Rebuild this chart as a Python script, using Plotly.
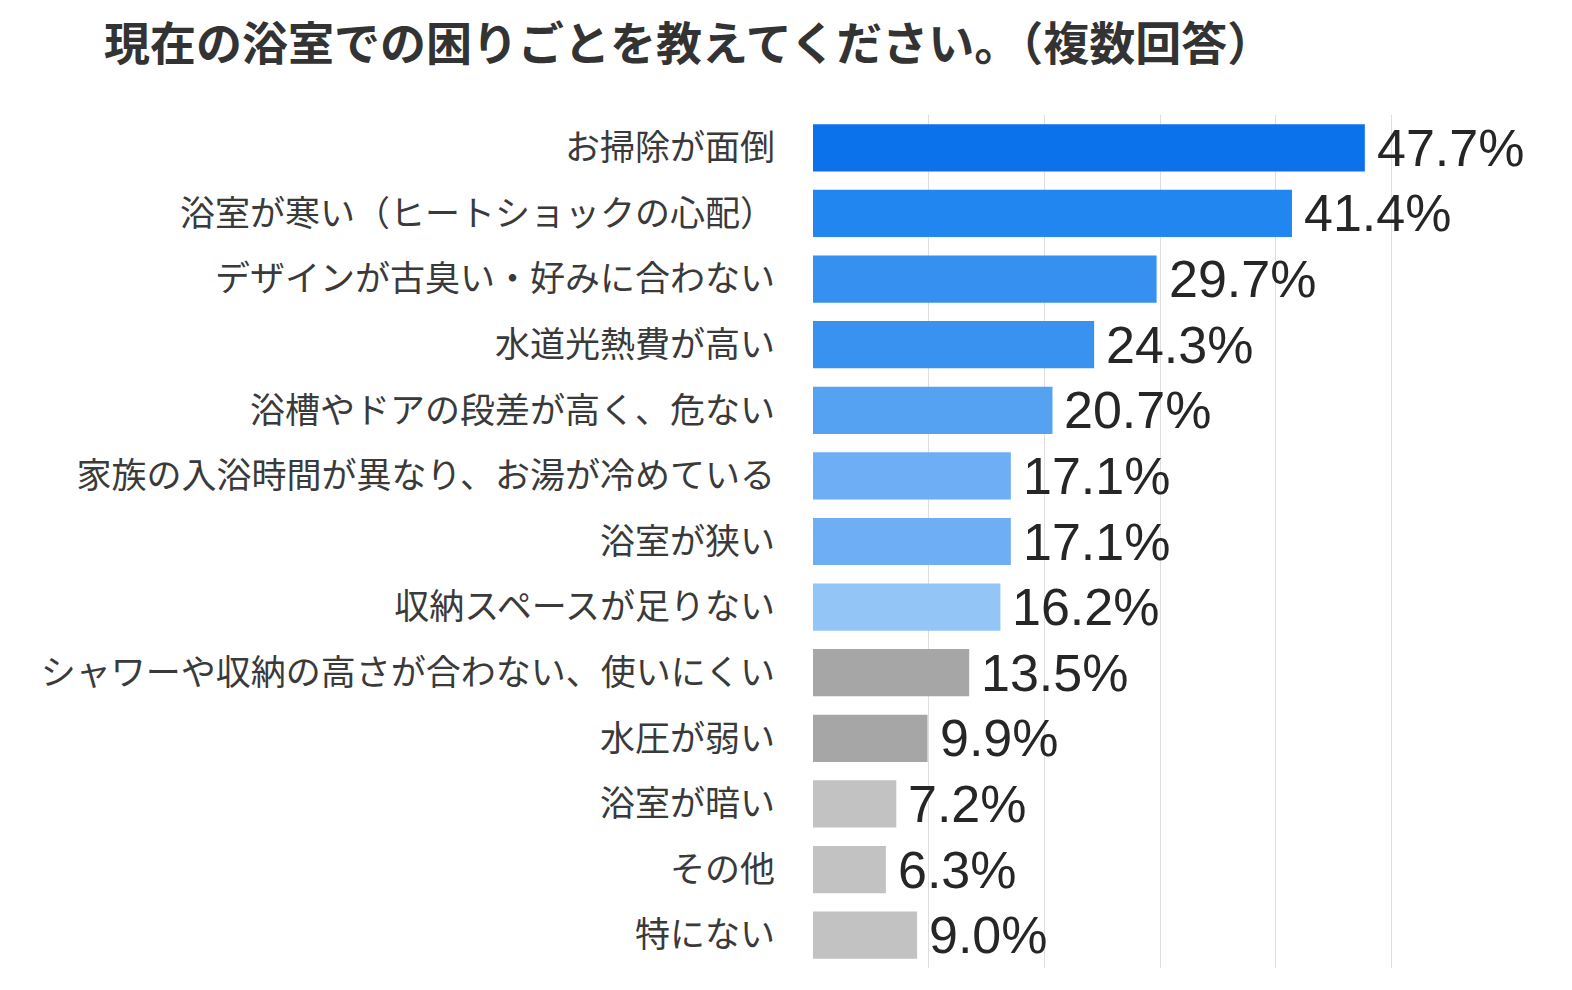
import plotly.graph_objects as go

# Survey answers (multiple answers allowed), top to bottom as in the chart
categories = [
    "お掃除が面倒",
    "浴室が寒い（ヒートショックの心配）",
    "デザインが古臭い・好みに合わない",
    "水道光熱費が高い",
    "浴槽やドアの段差が高く、危ない",
    "家族の入浴時間が異なり、お湯が冷めている",
    "浴室が狭い",
    "収納スペースが足りない",
    "シャワーや収納の高さが合わない、使いにくい",
    "水圧が弱い",
    "浴室が暗い",
    "その他",
    "特にない",
]
values = [47.7, 41.4, 29.7, 24.3, 20.7, 17.1, 17.1, 16.2, 13.5, 9.9, 7.2, 6.3, 9.0]
bar_colors = [
    "#0B72EB", "#2186F0", "#3690F0", "#3A92F0", "#56A2F2", "#6DAEF4", "#6DAEF4",
    "#94C5F7", "#A6A6A6", "#A6A6A6", "#C2C2C2", "#C2C2C2", "#C2C2C2",
]

jp_font = "Noto Sans CJK JP"

fig = go.Figure(go.Bar(
    x=values,
    y=categories,
    orientation="h",
    marker=dict(color=bar_colors, line=dict(width=0)),
    hovertemplate="%{y}: %{x:.1f}%<extra></extra>",
))

# value labels to the right of each bar
for cat, val in zip(categories, values):
    fig.add_annotation(
        x=val, y=cat, text=f"{val:.1f}%",
        showarrow=False, xanchor="left", yanchor="middle", xshift=10,
        font=dict(family="Liberation Sans, Arial, sans-serif", size=52, color="#262626"),
    )

fig.update_layout(
    width=1572,
    height=990,
    paper_bgcolor="white",
    plot_bgcolor="white",
    bargap=0.28,
    showlegend=False,
    margin=dict(l=805, r=96, t=107, b=30),
    title=dict(
        text="<b>現在の浴室での困りごとを教えてください。（複数回答）</b>",
        x=96 / 1572, xanchor="left",
        y=1 - 36 / 990, yanchor="middle",
        font=dict(family=jp_font, size=46, color="#333333"),
    ),
    xaxis=dict(
        range=[0, 58],
        dtick=10,
        showgrid=True,
        gridcolor="#DEDEDE",
        gridwidth=1,
        zeroline=False,
        showline=False,
        showticklabels=False,
        fixedrange=True,
    ),
    yaxis=dict(
        categoryorder="array",
        categoryarray=categories,
        autorange="reversed",
        showgrid=False,
        zeroline=False,
        showline=False,
        ticks="",
        ticklabelstandoff=37,
        tickfont=dict(family=jp_font, size=35, color="#3A3A3A"),
        fixedrange=True,
    ),
)

fig.write_html("out.html")
